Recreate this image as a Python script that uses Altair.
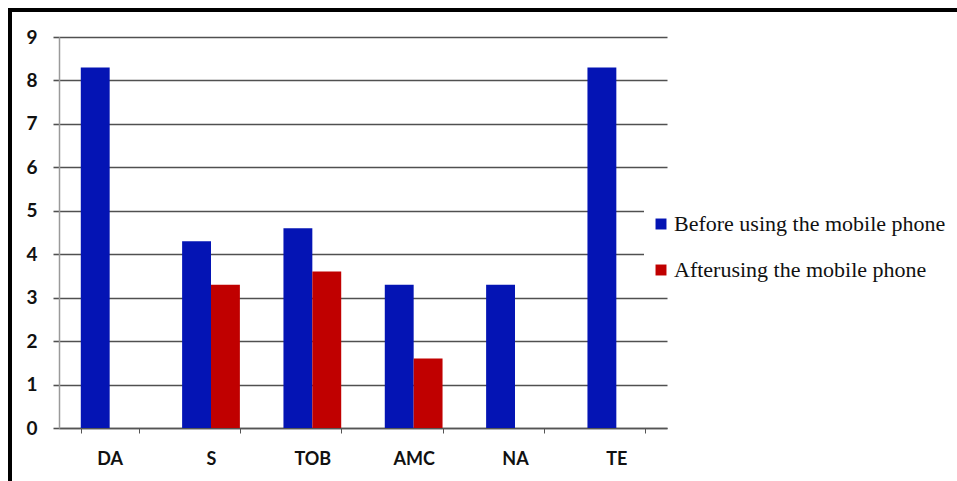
import altair as alt
import pandas as pd

# Categories and the two series (None = no bar)
categories = ["DA", "S", "TOB", "AMC", "NA", "TE"]
before = [8.3, 4.3, 4.6, 3.3, 3.3, 8.3]
after = [None, 3.3, 3.6, 1.6, None, None]
series_names = ["Before using the mobile phone", "Afterusing the mobile phone"]
series_colors = ["#0414b4", "#c00000"]
y_ticks = [0, 1, 2, 3, 4, 5, 6, 7, 8, 9]

rows = []
for cat, b, a in zip(categories, before, after):
    if b is not None:
        rows.append({"category": cat, "series": series_names[0], "value": b})
    if a is not None:
        rows.append({"category": cat, "series": series_names[1], "value": a})
df = pd.DataFrame(rows)

W, H = 608, 391
PAD = {"left": 59, "top": 37, "right": 957 - 59 - W, "bottom": 481 - 37 - H}

bars = alt.Chart(df).mark_bar().encode(
    x=alt.X(
        "category:N",
        sort=categories,
        scale=alt.Scale(paddingInner=0.43, paddingOuter=0.215),
        axis=alt.Axis(
            title=None, labelAngle=0, grid=False, tickBand="extent",
            tickSize=5, tickColor="#555555", domainColor="#555555",
            domainWidth=1.5, labelPadding=17,
            labelFont="Lato", labelFontWeight="bold", labelFontSize=18,
            labelColor="#111111",
        ),
    ),
    xOffset=alt.XOffset("series:N", sort=series_names,
                        scale=alt.Scale(paddingInner=0, paddingOuter=0)),
    y=alt.Y(
        "value:Q",
        scale=alt.Scale(domain=[0, 9], nice=False),
        axis=alt.Axis(
            title=None, values=y_ticks, grid=True, gridColor="#505050",
            gridWidth=1.6, tickSize=6, tickColor="#505050", tickWidth=1.6,
            domainColor="#9a9a9a", domainWidth=1.5, labelPadding=16,
            labelFont="Lato", labelFontWeight="bold", labelFontSize=19,
            labelColor="#111111",
        ),
    ),
    color=alt.Color(
        "series:N",
        sort=series_names,
        scale=alt.Scale(domain=series_names, range=series_colors),
        legend=alt.Legend(
            title=None, orient="none", legendX=585, legendY=170,
            fillColor="white", padding=6, symbolType="square",
            symbolSize=120, symbolStrokeWidth=0, rowPadding=24,
            labelFont="Liberation Serif", labelFontSize=22,
            labelColor="#111111", labelLimit=400, labelOffset=2,
        ),
    ),
)

frame = alt.Data(values=[{}])
top_border = alt.Chart(frame).mark_rule(color="black", strokeWidth=4).encode(
    x=alt.value(-PAD["left"] + 8), x2=alt.value(W + PAD["right"]),
    y=alt.value(-PAD["top"] + 10),
)
left_border = alt.Chart(frame).mark_rule(color="black", strokeWidth=4).encode(
    x=alt.value(-PAD["left"] + 10),
    y=alt.value(-PAD["top"] + 8), y2=alt.value(H + PAD["bottom"]),
)

chart = alt.layer(bars, top_border, left_border).properties(
    width=W, height=H,
    autosize=alt.AutoSizeParams(type="none"),
    padding=PAD,
    background="white",
).configure_view(stroke=None)

chart.save("out.html", embed_options={"renderer": "svg", "actions": False})
